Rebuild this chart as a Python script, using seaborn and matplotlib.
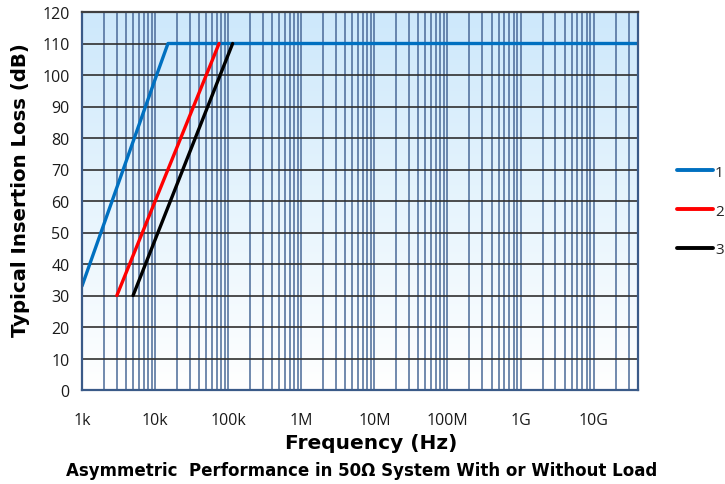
import numpy as np
import pandas as pd
import matplotlib
matplotlib.use("Agg")
import matplotlib.pyplot as plt
from matplotlib.colors import LinearSegmentedColormap
from matplotlib.ticker import LogLocator, FixedLocator, NullFormatter
import seaborn as sns

# Insertion loss curves (frequency in Hz, loss in dB)
freq_1 = [1e3, 1.05e4, 1.5e4, 4e10]
loss_1 = [33, 100, 110, 110]
freq_2 = [3e3, 7.5e4]
loss_2 = [30, 110]
freq_3 = [5e3, 1.15e5]
loss_3 = [30, 110]

series_names = ["1", "2", "3"]
series_colors = ["#0070c0", "#ff0000", "#000000"]

x_ticks = [1e3, 1e4, 1e5, 1e6, 1e7, 1e8, 1e9, 1e10]
x_tick_labels = ["1k", "10k", "100k", "1M", "10M", "100M", "1G", "10G"]
y_ticks = list(range(0, 121, 10))

frames = []
for name, f, l in zip(series_names, [freq_1, freq_2, freq_3], [loss_1, loss_2, loss_3]):
    frames.append(pd.DataFrame({"freq": f, "loss": l, "series": name}))
df = pd.concat(frames, ignore_index=True)

sns.set_theme(style="white")
plt.rcParams["font.family"] = ["DejaVu Sans"]

fig = plt.figure(figsize=(7.25, 4.85), dpi=100)
ax = fig.add_axes([82 / 725, 1 - 391 / 485, (637.7 - 82) / 725, (391 - 13) / 485])

# soft blue gradient background, white at the bottom
grad = LinearSegmentedColormap.from_list("bg", ["#ffffff", "#e6f4fd", "#cde8fb"])
ax.imshow(np.linspace(0, 1, 256).reshape(-1, 1), cmap=grad, aspect="auto",
          extent=[0, 1, 0, 1], origin="lower", transform=ax.transAxes, zorder=0)

sns.lineplot(data=df, x="freq", y="loss", hue="series", palette=series_colors,
             linewidth=2.4, ax=ax, legend=False, zorder=5, sort=False, estimator=None)

ax.set_xscale("log")
ax.set_xlim(1e3, 4e10)
ax.set_ylim(0, 120)

ax.xaxis.set_major_locator(FixedLocator(x_ticks))
ax.set_xticklabels(x_tick_labels)
ax.xaxis.set_minor_locator(LogLocator(base=10, subs=np.arange(2, 10), numticks=100))
ax.xaxis.set_minor_formatter(NullFormatter())
ax.set_yticks(y_ticks)

# vertical grid in steel blue, horizontal grid dark
for v in np.concatenate([[b * 10.0 ** e for b in range(1, 10)] for e in range(3, 11)]):
    if 1e3 < v < 4e10:
        ax.axvline(v, color="#4a6a98", linewidth=1.1, zorder=2)
for h in y_ticks[1:-1]:
    ax.axhline(h, color="#303030", linewidth=1.2, zorder=3)

ax.tick_params(axis="x", which="major", direction="out", length=4, width=1.5,
               color="#3a5a88", labelsize=11.5, pad=12, labelcolor="#1a1a1a")
ax.tick_params(axis="x", which="minor", length=0)
ax.tick_params(axis="y", which="major", direction="out", length=5, width=1.5,
               color="#3a5a88", labelsize=11.5, pad=4, labelcolor="#1a1a1a")
for lab in ax.get_xticklabels() + ax.get_yticklabels():
    lab.set_family("Open Sans")

for side in ["left", "bottom", "right"]:
    ax.spines[side].set_color("#3a5a88")
    ax.spines[side].set_linewidth(1.6)
ax.spines["top"].set_color("#404040")
ax.spines["top"].set_linewidth(1.6)
for s in ax.spines.values():
    s.set_zorder(6)

ax.set_xlabel("Frequency (Hz)", fontsize=14.5, fontweight="bold", color="#000000")
ax.set_ylabel("Typical Insertion Loss (dB)", fontsize=14.2, fontweight="bold", color="#000000")
ax.xaxis.set_label_coords(0.52, -0.115)
ax.yaxis.set_label_coords(-0.093, 0.532)

fig.text(362 / 725, 1 - 471 / 485, "Asymmetric  Performance in 50\u03a9 System With or Without Load",
         ha="center", va="center", fontsize=12, fontweight="bold", color="#000000")

handles = [plt.Line2D([], [], color=c, linewidth=2.8) for c in series_colors]
leg = fig.legend(handles, series_names, loc="center left", bbox_to_anchor=(663 / 725, 1 - 212 / 485),
                 frameon=False, handlelength=2.4, handletextpad=0.1, labelspacing=1.55,
                 prop={"family": "Open Sans", "size": 11})

fig.savefig("out.png", dpi=100)
